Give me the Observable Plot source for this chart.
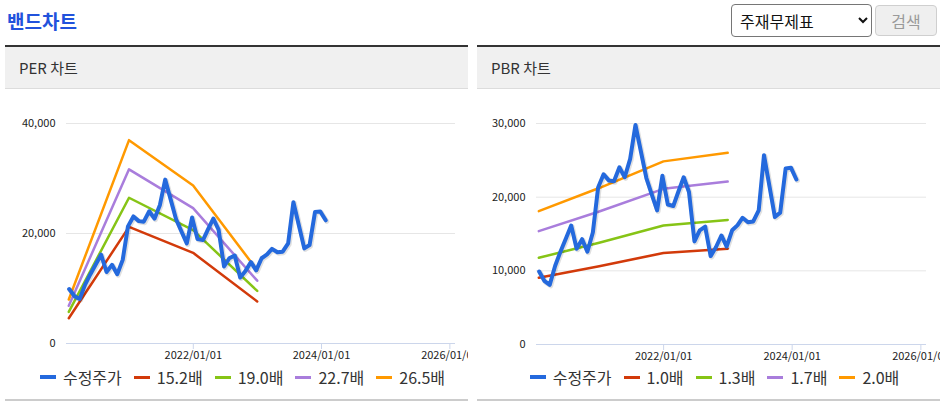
<!DOCTYPE html>
<html><head><meta charset="utf-8">
<script src="https://cdn.jsdelivr.net/npm/d3@7"></script>
<script src="https://cdn.jsdelivr.net/npm/@observablehq/plot@0.6"></script>
<style>
body{margin:0;width:945px;height:406px;position:relative;background:#fff;font-family:"Noto Sans CJK KR","Noto Sans",sans-serif;overflow:hidden}
.title{position:absolute;left:7px;top:8px;font-size:19px;font-weight:700;color:#2152dc;line-height:26px;letter-spacing:0px}
select{position:absolute;left:731px;top:4px;width:141px;height:33px;font-size:16px;font-family:"Noto Sans CJK KR",sans-serif;color:#111;border:1px solid #767676;border-radius:4px;background:#fff;padding-left:4px}
button{position:absolute;left:875px;top:5px;width:62px;height:31px;font-size:16px;font-family:"Noto Sans CJK KR",sans-serif;color:#9a9a9a;background:#efefef;border:1px solid #cfcfcf;border-radius:4px}
.panel{position:absolute;top:45px;width:463px;height:357px;border-top:2px solid #333}
.phead{background:#f0f0f0;border-bottom:1px solid #dcdcdc;font-size:15px;color:#333;line-height:41px;padding-left:14px;box-sizing:border-box;height:42px}
.chart{height:277px;overflow:hidden}
.legend{height:22px;line-height:22px;display:flex;justify-content:center;align-items:center;font-size:16px;color:#333;padding-left:12px;white-space:nowrap}
.item{display:flex;align-items:center;margin-right:12px}
.item:last-child{margin-right:0}
.sym{display:inline-block;width:16px;margin-right:7px}
.pbottom{position:absolute;top:352px;left:0;right:0;height:2px;background:#cccccc}
</style></head>
<body>
<div class="title">밴드차트</div>
<select><option>주재무제표</option></select>
<button disabled>검색</button>
<div class="panel" id="per" style="left:5px"><div class="phead">PER 차트</div><div class="chart"></div><div class="legend"></div><div class="pbottom"></div></div>
<div class="panel" id="pbr" style="left:477px"><div class="phead">PBR 차트</div><div class="chart"></div><div class="legend"></div><div class="pbottom"></div></div>
<script>
// monthly adjusted price (수정주가)
const months = ["2020-01","2020-02","2020-03","2020-04","2020-05","2020-06","2020-07","2020-08","2020-09","2020-10","2020-11","2020-12",
"2021-01","2021-02","2021-03","2021-04","2021-05","2021-06","2021-07","2021-08","2021-09","2021-10","2021-11","2021-12",
"2022-01","2022-02","2022-03","2022-04","2022-05","2022-06","2022-07","2022-08","2022-09","2022-10","2022-11","2022-12",
"2023-01","2023-02","2023-03","2023-04","2023-05","2023-06","2023-07","2023-08","2023-09","2023-10","2023-11","2023-12","2024-01"];
const price = [9900,8600,8100,10700,12600,14400,16150,13000,14300,12600,15200,21300,
23100,22250,22150,24050,22700,25200,29800,26200,22600,20400,18200,22900,
19000,18800,20700,22700,20700,14000,15500,16000,12000,13200,14800,13300,
15500,16200,17200,16600,16700,18200,25700,21500,17300,17900,23900,24000,22400];

const bandDates = ["2020-01-23","2020-12-31","2021-12-31","2022-12-31"];
// PER bands
const perLabels = ["15.2배","19.0배","22.7배","26.5배"];
const per152 = [4590,21200,16480,7650];
const per190 = [5740,26500,20600,9560];
const per227 = [6860,31670,24610,11420];
const per265 = [8000,36970,28730,13330];
// PBR bands
const pbrLabels = ["1.0배","1.3배","1.7배","2.0배"];
const pbr10 = [9050,10620,12430,13010];
const pbr13 = [11770,13810,16160,16910];
const pbr17 = [15390,18050,21130,22120];
const pbr20 = [18100,21240,24860,26020];

const perTicks = [0,20000,40000];
const pbrTicks = [0,10000,20000,30000];
const xTicks = ["2022-01-01","2024-01-01","2026-01-01"];
const xDomain = ["2020-01-10","2026-02-02"];

const priceColor = "#2469dd";
const bandColors = ["#d23a0a","#86c416","#a97ddc","#ff9900"];

function build(el, {bands, labels, ticks, ml, mr, mb}) {
  const pdata = months.map((m,i)=>({date:new Date(m+"-25"), v:price[i]}));
  const marks = [
    Plot.gridY(ticks.filter(t=>t>0), {stroke:"#e6e6e6", strokeOpacity:1, strokeWidth:1}),
    Plot.ruleY([0], {stroke:"#ccd6eb", strokeWidth:1}),
    Plot.axisX(xTicks.map(d=>new Date(d)), {tickFormat:d3.utcFormat("%Y/%m/%d"), tickSize:6, tickPadding:2, stroke:"#ccd6eb", fill:"#222", label:null}),
    Plot.axisY(ticks, {tickFormat:d3.format(","), tickSize:0, tickPadding:11, fill:"#222", label:null})
  ];
  bands.forEach((b,k)=>{
    const d = bandDates.map((t,i)=>({date:new Date(t), v:b[i]}));
    marks.push(Plot.line(d, {x:"date", y:"v", stroke:bandColors[k], strokeWidth:2.5}));
  });
  marks.push(Plot.line(pdata, {x:"date", y:"v", stroke:"#000", strokeOpacity:0.12, strokeWidth:5, dx:1, dy:1, strokeLinejoin:"round", strokeLinecap:"round"}));
  marks.push(Plot.line(pdata, {x:"date", y:"v", stroke:priceColor, strokeWidth:4, strokeLinejoin:"round", strokeLinecap:"round"}));
  const svg = Plot.plot({
    width:463, height:277, marginTop:34, marginBottom:mb, marginLeft:ml, marginRight:mr,
    style:{fontFamily:"'Noto Sans CJK KR',sans-serif", fontSize:"11px", background:"transparent", overflow:"hidden"},
    x:{type:"utc", domain:xDomain.map(d=>new Date(d))},
    y:{domain:[0, ticks[ticks.length-1]]},
    marks
  });
  el.querySelector(".chart").appendChild(svg);
  const lg = el.querySelector(".legend");
  const items = [{name:"수정주가", color:priceColor, h:4}].concat(labels.map((l,k)=>({name:l, color:bandColors[k], h:3})));
  items.forEach(it=>{
    const d = document.createElement("div"); d.className="item";
    const s = document.createElement("span"); s.className="sym"; s.style.height=it.h+"px"; s.style.background=it.color;
    d.appendChild(s); d.appendChild(document.createTextNode(it.name));
    lg.appendChild(d);
  });
}
build(document.getElementById("per"), {bands:[per152,per190,per227,per265], labels:perLabels, ticks:perTicks, ml:61, mr:13, mb:23});
build(document.getElementById("pbr"), {bands:[pbr10,pbr13,pbr17,pbr20], labels:pbrLabels, ticks:pbrTicks, ml:59, mr:14, mb:22});
</script>
</body></html>
